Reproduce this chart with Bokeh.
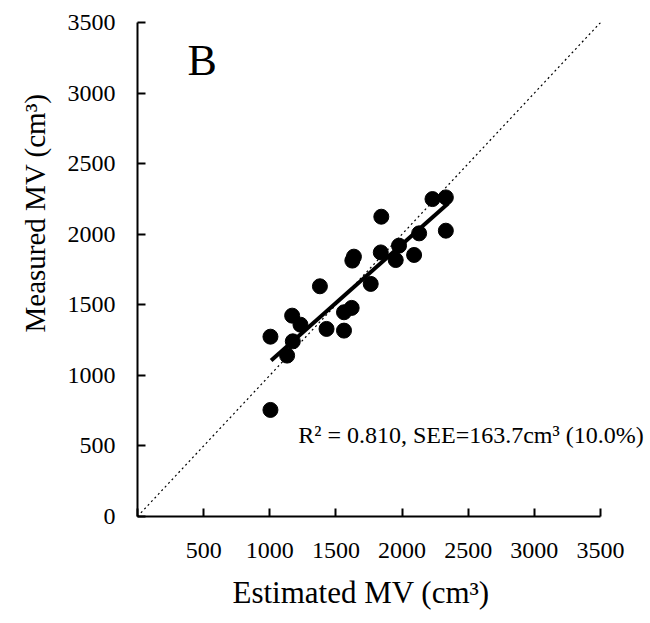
from bokeh.plotting import figure
from bokeh.models import Range1d, FixedTicker, Label, Title
from bokeh.embed import file_html
from bokeh.resources import INLINE

# Data (cm^3)
estimated = [1005, 1005, 1169, 1232, 1174, 1131, 1379, 1429, 1561, 1561, 1619,
             1636, 1624, 1763, 1843, 1839, 1952, 1977, 2091, 2129, 2230, 2331, 2331]
measured = [1274, 755, 1423, 1359, 1241, 1140, 1631, 1329, 1317, 1447, 1478,
            1841, 1813, 1648, 2124, 1871, 1817, 1919, 1853, 2006, 2249, 2261, 2025]

fit_x = [1010, 2350]
fit_y = [1105, 2220]

identity = [0, 3500]
ticks = [0, 500, 1000, 1500, 2000, 2500, 3000, 3500]

FONT = "Liberation Serif"

# frame spans to the right edge so the annotation is not clipped;
# axis drawn only over 0..3500
p = figure(width=650, height=623, output_backend="svg", toolbar_location=None,
           x_range=Range1d(0, 3878), y_range=Range1d(0, 3500),
           min_border_left=137, min_border_right=0, min_border_top=22,
           min_border_bottom=107)
p.outline_line_color = None
p.grid.visible = False
p.background_fill_color = "white"
p.border_fill_color = "white"

p.line(identity, identity, line_color="black", line_width=1.2, line_dash="2 3")
p.line(fit_x, fit_y, line_color="black", line_width=4)
p.scatter(estimated, measured, size=15, fill_color="black", line_color="black")

for ax in (p.xaxis[0], p.yaxis[0]):
    ax.ticker = FixedTicker(ticks=ticks)
    ax.bounds = (0, 3500)
    ax.minor_tick_line_color = None
    ax.major_tick_in = 8
    ax.major_tick_out = 0
    ax.axis_line_width = 2
    ax.major_tick_line_width = 2
    ax.axis_line_color = "black"
    ax.major_tick_line_color = "black"
    ax.major_label_text_font = FONT
    ax.major_label_text_font_size = "24px"
    ax.major_label_text_color = "black"

p.xaxis.major_label_overrides = {0: ""}
p.xaxis.major_label_standoff = 26
p.yaxis.major_label_standoff = 22

p.add_layout(Title(text="Estimated MV (cm³)", align="left", offset=95,
                   text_font=FONT, text_font_size="31px", text_color="black",
                   text_font_style="normal", standoff=24), "below")
p.add_layout(Title(text="Measured MV (cm³)", align="left", offset=184,
                   text_font=FONT, text_font_size="29px", text_color="black",
                   text_font_style="normal", standoff=28), "left")
p.add_layout(Label(x=378, y=3231, text="B", text_font=FONT, text_font_size="44px",
                   text_color="black", text_baseline="alphabetic"))
p.add_layout(Label(x=1215, y=574, text="R² = 0.810, SEE=163.7cm³ (10.0%)",
                   text_font=FONT, text_font_size="24px", text_color="black",
                   text_baseline="alphabetic"))

open("out.html", "w").write(file_html(p, INLINE))
